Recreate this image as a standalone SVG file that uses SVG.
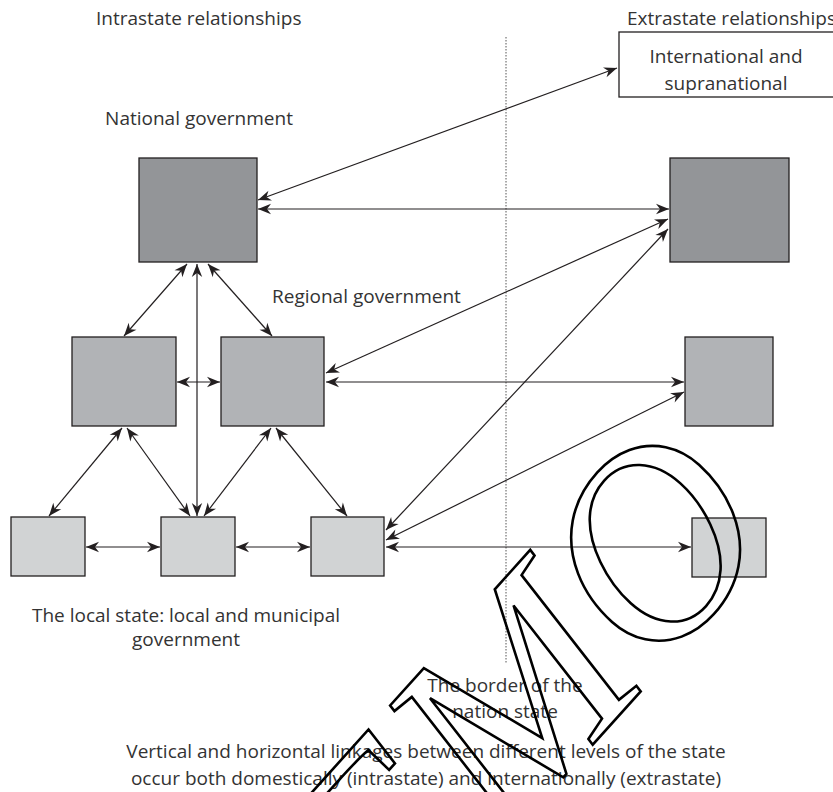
<svg xmlns="http://www.w3.org/2000/svg" width="833" height="792" viewBox="0 0 833 792">
  <style>
    .lbl { font-family: "Open Sans", "Liberation Sans", sans-serif; font-size: 19px; fill: #333; }
    .mid { text-anchor: middle; }
    .nat { fill: #939598; stroke: #231f20; stroke-width: 1.3; }
    .reg { fill: #b1b3b6; stroke: #231f20; stroke-width: 1.3; }
    .loc { fill: #d1d3d4; stroke: #231f20; stroke-width: 1.3; }
    .box { fill: #ffffff; stroke: #231f20; stroke-width: 1.3; }
    .link { fill: none; stroke: #231f20; stroke-width: 1.2; marker-start: url(#ah); marker-end: url(#ah); }
    .border { stroke: #555; stroke-width: 1; stroke-dasharray: 1.5 1.5; fill: none; }
    .wm { font-family: "Liberation Serif", "Times New Roman", serif; font-style: italic; font-size: 270px; fill: none; stroke: #000; stroke-width: 2.6; }
  </style>
  <defs>
    <marker id="ah" viewBox="-15 -7 17 14" refX="0" refY="0" markerWidth="17" markerHeight="14" markerUnits="userSpaceOnUse" orient="auto-start-reverse">
      <path d="M0,0 L-13,-5.2 L-9,0 L-13,5.2 Z" fill="#231f20"/>
    </marker>
  </defs>

  <rect width="833" height="792" fill="#ffffff"/>

  <!-- column headings -->
  <text class="lbl" x="96" y="25">Intrastate relationships</text>
  <text class="lbl" x="627" y="25">Extrastate relationships</text>

  <!-- national frontier -->
  <line class="border" x1="506" y1="37" x2="506" y2="663"/>

  <!-- connectors -->
  <g id="connectors">
    <line class="link" x1="258" y1="200" x2="617" y2="68"/>
    <line class="link" x1="258" y1="209" x2="669" y2="209"/>
    <line class="link" x1="326" y1="373" x2="668" y2="219"/>
    <line class="link" x1="386" y1="530" x2="668" y2="229"/>
    <line class="link" x1="326" y1="382" x2="684" y2="382"/>
    <line class="link" x1="386" y1="540" x2="684" y2="392"/>
    <line class="link" x1="386" y1="547" x2="691" y2="547"/>
    <line class="link" x1="187" y1="264" x2="124" y2="336"/>
    <line class="link" x1="197" y1="264" x2="197" y2="516"/>
    <line class="link" x1="208" y1="264" x2="272" y2="336"/>
    <line class="link" x1="177" y1="382" x2="220" y2="382"/>
    <line class="link" x1="122" y1="428" x2="49" y2="516"/>
    <line class="link" x1="127" y1="428" x2="190" y2="516"/>
    <line class="link" x1="271" y1="428" x2="204" y2="516"/>
    <line class="link" x1="276" y1="428" x2="347" y2="516"/>
    <line class="link" x1="86" y1="547" x2="160" y2="547"/>
    <line class="link" x1="236" y1="547" x2="310" y2="547"/>
  </g>

  <!-- international level -->
  <g id="international">
    <rect class="box" x="619" y="32" width="216" height="65"/>
    <text class="lbl mid" x="726" y="63">International and</text>
    <text class="lbl mid" x="726" y="90">supranational</text>
  </g>

  <!-- national level -->
  <text class="lbl mid" x="199" y="125">National government</text>
  <g id="national-domestic"><rect class="nat" x="139" y="158" width="118" height="104"/></g>
  <g id="national-foreign"><rect class="nat" x="670" y="158" width="119" height="104"/></g>

  <!-- regional level -->
  <text class="lbl" x="272" y="303">Regional government</text>
  <g id="regional-a"><rect class="reg" x="72" y="337" width="104" height="89"/></g>
  <g id="regional-b"><rect class="reg" x="221" y="337" width="103" height="89"/></g>
  <g id="regional-foreign"><rect class="reg" x="685" y="337" width="88" height="89"/></g>

  <!-- local level -->
  <g id="local-a"><rect class="loc" x="11" y="517" width="74" height="59"/></g>
  <g id="local-b"><rect class="loc" x="161" y="517" width="74" height="59"/></g>
  <g id="local-c"><rect class="loc" x="311" y="517" width="73" height="59"/></g>
  <g id="local-foreign"><rect class="loc" x="692" y="518" width="74" height="59"/></g>

  <text class="lbl mid" x="186" y="622">The local state: local and municipal</text>
  <text class="lbl mid" x="186" y="646">government</text>

  <text class="lbl mid" x="505" y="692">The border of the</text>
  <text class="lbl mid" x="505" y="718">nation state</text>

  <text class="lbl mid" x="426" y="758">Vertical and horizontal linkages between different levels of the state</text>
  <text class="lbl mid" x="426" y="785">occur both domestically (intrastate) and internationally (extrastate)</text>

  <!-- overprinted outline lettering -->
  <text class="wm" transform="translate(262,1112) rotate(-48)">DEMO</text>
</svg>
